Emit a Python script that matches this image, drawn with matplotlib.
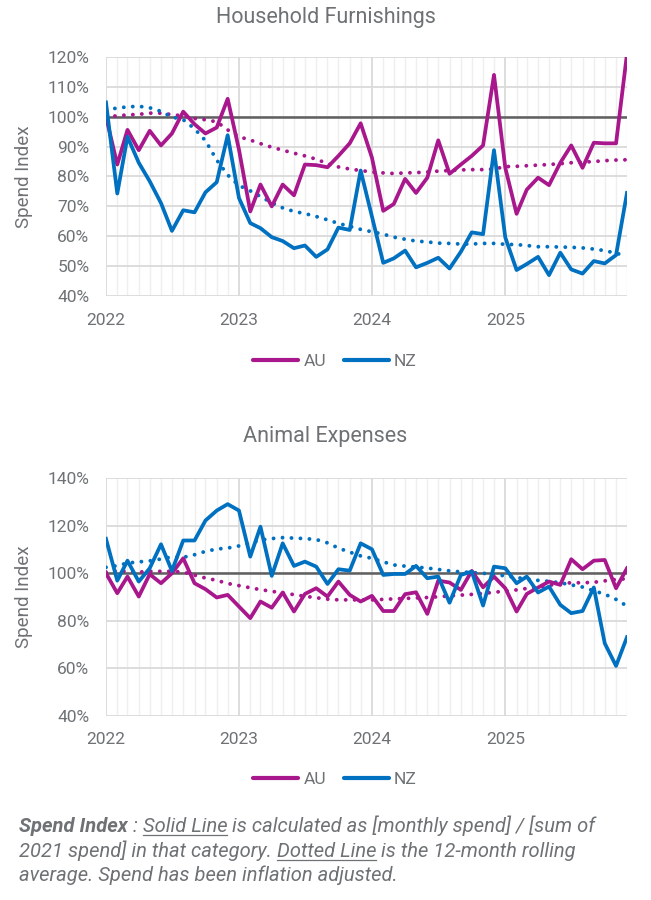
import pandas as pd
import matplotlib
matplotlib.use('Agg')
import matplotlib.pyplot as plt
import matplotlib.dates as mdates
from matplotlib.ticker import FuncFormatter, MultipleLocator
from matplotlib.lines import Line2D

plt.rcParams['font.family'] = ['Roboto', 'DejaVu Sans']

# Monthly data, Jan 2022 - Dec 2025 (spend index, %)
months = pd.date_range('2022-01-01', periods=48, freq='MS')

furn_au = [100, 84, 95.6, 88.8, 95.3, 90.4, 94.4, 101.7, 97.5, 94.4, 96.4, 106,
           89, 68.3, 77.3, 70, 77.3, 73.7, 84, 83.8, 83.1, 86.9, 91.1, 97.8,
           86.3, 68.5, 70.8, 79.2, 74.5, 79.6, 92.1, 80.9, 84, 86.9, 90.4, 114,
           82.9, 67.5, 75.6, 79.6, 77.1, 84.6, 90.4, 82.9, 91.3, 91.1, 91.1, 121]
furn_nz = [104.8, 74.3, 93.3, 84.6, 78.4, 71.1, 61.8, 68.7, 68, 74.7, 78.1, 93.8,
           72.8, 64.4, 62.7, 59.7, 58.4, 56, 56.9, 53.1, 55.6, 62.9, 62.1, 82,
           66.6, 51.1, 52.6, 55.2, 49.6, 51.1, 52.8, 49.2, 54.8, 61.3, 60.7, 88.8,
           59.6, 48.7, 50.7, 53.1, 47, 54.5, 48.9, 47.5, 51.7, 50.9, 53.7, 74.5]
furn_au_avg = [100, 100.3, 100.6, 100.8, 101.2, 101.2, 100.7, 100.3, 99.4, 99, 98.3, 95.6,
               93.3, 92.2, 91, 89.8, 88.8, 87.8, 86.9, 85.8, 84.3, 83.2, 82.5, 82,
               81.5, 81.2, 81, 81.2, 81.3, 81.5, 81.8, 82, 82.2, 82.3, 82.3, 82.5,
               83.3, 83.4, 83.6, 83.8, 84, 84.3, 84.6, 84.8, 85, 85.3, 85.5, 85.6]
furn_nz_avg = [102.3, 102.9, 103.3, 103.5, 103, 101.8, 99.9, 99, 96, 92, 85.5, 80.5,
               77, 75.2, 73.3, 71.2, 69.5, 68.3, 67.6, 66.6, 65.5, 64.3, 63.3, 62.3,
               61.5, 60.7, 59.7, 59, 58.4, 58.1, 57.7, 57.6, 57.4, 57.4, 57.6, 57.6,
               57.3, 57.2, 56.9, 56.5, 56.5, 56.4, 56.3, 56.1, 55.7, 55.2, 54.3, 53.4]

anim_au = [100, 91.6, 98.6, 90.2, 99.6, 95.8, 100, 106.3, 95.8, 93.3, 89.8, 90.9,
           86, 81.1, 88.1, 85.5, 91.9, 83.9, 91.3, 93.7, 90.2, 96.5, 90.9, 88.1,
           90.5, 84.1, 84.1, 91.2, 92, 82.9, 96.9, 96.1, 93, 101, 94.1, 98.6,
           93.7, 83.9, 91.3, 94, 96.5, 95.1, 105.9, 101.7, 105.3, 105.6, 93.7, 102.1]
anim_nz = [114.5, 96.9, 105.3, 96.5, 102.1, 112.2, 101, 113.8, 113.8, 122.2, 126.4, 129.1,
           126.4, 107, 119.6, 98.9, 112.6, 103.1, 104.9, 102.8, 95.5, 101.7, 101.1, 112.6,
           110.1, 99.3, 99.7, 99.7, 103.1, 97.9, 98.6, 87.6, 99.3, 100.7, 86.4, 102.8,
           102.1, 95.8, 98.6, 91.9, 94.4, 86.7, 83.2, 84.1, 94, 70.5, 61, 73.1]
anim_au_avg = [100.5, 101, 100.8, 100.5, 100.8, 100.8, 100.8, 100.5, 99.2, 98, 97, 95.7,
               94.8, 93.9, 93.1, 92.4, 91.7, 91, 90.3, 89.7, 89.1, 88.8, 88.8, 88.8,
               88.8, 89, 89.2, 89.4, 89.6, 89.8, 90.1, 90.5, 90.8, 91.1, 91.5, 92,
               92.5, 93, 93.6, 94.2, 94.9, 95.7, 96, 96, 96.2, 96.8, 97.4, 97.7]
anim_nz_avg = [102.5, 103.2, 104.3, 104.8, 105.2, 106, 106.9, 106.7, 107.8, 109.2, 110.2, 110.6,
               111.5, 112.7, 114, 114.6, 115, 114.8, 114.6, 114.2, 112.8, 110.6, 108.9, 107.3,
               106.3, 104.8, 103.5, 103, 102.6, 102.2, 101.6, 101, 100.6, 100.3, 100, 99.5,
               98.9, 98.2, 97.6, 97, 96.6, 96, 95.1, 94.2, 92.6, 91.2, 89, 86.2]

AU_COL = '#A8178C'
NZ_COL = '#0070C0'
TXT = '#6E7275'

fig = plt.figure(figsize=(6.51, 9), dpi=100)
ax1 = fig.add_axes([0.1628, 0.6711, 0.8003, 0.2656])
ax2 = fig.add_axes([0.1628, 0.2047, 0.8003, 0.2639])


def style_axis(ax, ylo, yhi, step, title, title_y, leg_y):
    ax.set_xlim(months[0], months[-1])
    ax.set_ylim(ylo, yhi)
    ax.xaxis.set_major_locator(mdates.YearLocator())
    ax.xaxis.set_major_formatter(mdates.DateFormatter('%Y'))
    ax.xaxis.set_minor_locator(mdates.MonthLocator())
    ax.yaxis.set_major_locator(MultipleLocator(step))
    ax.yaxis.set_major_formatter(FuncFormatter(lambda v, p: f'{v:.0f}%'))
    ax.grid(True, which='major', axis='both', color='#DADADA', lw=1.3)
    ax.grid(True, which='minor', axis='x', color='#EFEFEF', lw=1.0)
    ax.set_axisbelow(True)
    for s in ax.spines.values():
        s.set_visible(False)
    ax.tick_params(which='both', length=0, labelsize=12.5, colors=TXT)
    ax.tick_params(axis='y', pad=12)
    ax.tick_params(axis='x', pad=12)
    ax.set_ylabel('Spend Index', fontsize=13.5, color=TXT)
    ax.yaxis.set_label_coords(-0.140, 0.5)
    ax.axhline(100, color='#5F5F5F', lw=1.8, zorder=2)
    fig.text(0.5, title_y, title, ha='center', va='center', fontsize=15.5, color=TXT)
    ax.legend(handles=[Line2D([], [], color=AU_COL, lw=3, solid_capstyle='round'),
                       Line2D([], [], color=NZ_COL, lw=3, solid_capstyle='round')],
              labels=['AU', 'NZ'], loc='center', bbox_to_anchor=(335 / 651, leg_y),
              bbox_transform=fig.transFigure, ncol=2, frameon=False,
              handlelength=2.6, handletextpad=0.3, columnspacing=1.0,
              labelcolor=TXT, fontsize=12.5)


def draw(ax, au, nz, au_avg, nz_avg):
    dots = (0, (0.01, 2.3))
    ax.plot(months, au_avg, color=AU_COL, lw=2.8, ls=dots, dash_capstyle='round', zorder=3)
    ax.plot(months, nz_avg, color=NZ_COL, lw=2.8, ls=dots, dash_capstyle='round', zorder=3)
    ax.plot(months, au, color=AU_COL, lw=2.7, zorder=4)
    ax.plot(months, nz, color=NZ_COL, lw=2.7, zorder=4)


style_axis(ax1, 40, 120, 10, 'Household Furnishings', 1 - 17 / 900, 1 - 361 / 900)
draw(ax1, furn_au, furn_nz, furn_au_avg, furn_nz_avg)
style_axis(ax2, 40, 140, 20, 'Animal Expenses', 1 - 437 / 900, 1 - 779 / 900)
draw(ax2, anim_au, anim_nz, anim_au_avg, anim_nz_avg)

# Footnote, built piece by piece so that parts can be bold / underlined
lines = [
    [('Spend Index', 'bold', False), (' : ', 'normal', False), ('Solid Line', 'normal', True),
     (' is calculated as [monthly spend] / [sum of', 'normal', False)],
    [('2021 spend] in that category. ', 'normal', False), ('Dotted Line', 'normal', True),
     (' is the 12-month rolling', 'normal', False)],
    [('average. Spend has been inflation adjusted.', 'normal', False)],
]
baselines = [832, 857, 881]
renderer = fig.canvas.get_renderer()
W, H = fig.get_size_inches() * fig.dpi
for parts, base in zip(lines, baselines):
    x = 19
    for txt, weight, under in parts:
        t = fig.text(x / W, 1 - base / H, txt, fontsize=14.5, style='italic', weight=weight,
                     color=TXT, ha='left', va='baseline')
        bb = t.get_window_extent(renderer)
        if under:
            fig.add_artist(Line2D([x / W, (x + bb.width) / W],
                                  [1 - (base + 2.5) / H] * 2, color=TXT, lw=0.9))
        x += bb.width

fig.savefig('out.png', dpi=100)
